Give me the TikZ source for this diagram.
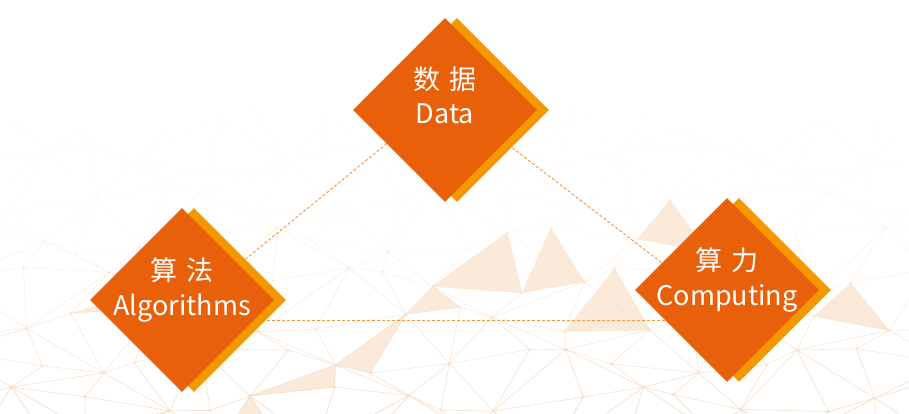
\documentclass[tikz,border=0pt]{standalone}
\usepackage{fontspec}
\usepackage{tikz}
\usetikzlibrary{shapes.geometric,backgrounds}
\newfontfamily\cjk{Noto Sans CJK SC}
\definecolor{red1}{RGB}{232,97,10}
\definecolor{orange1}{RGB}{243,152,0}
\definecolor{mesh1}{RGB}{246,214,188}
\definecolor{mesh2}{RGB}{249,218,192}
\definecolor{dash1}{RGB}{240,150,60}

\begin{document}
\begin{tikzpicture}[x=1pt,y=-1pt,
  box/.style={diamond,aspect=1,fill=red1,minimum width=184pt,minimum height=184pt,inner sep=0pt},
  boxshade/.style={box,fill=orange1},
  zh/.style={text=white,font=\cjk\fontsize{27}{30}\selectfont,anchor=base,inner sep=0pt},
  en/.style={zh},
  link/.style={dash1,line width=0.9pt,dash pattern=on 3pt off 2pt},
  meshline/.style={mesh1,line width=0.7pt},
  meshfill/.style={fill=mesh2}]
\useasboundingbox (0,0) rectangle (909,414);

\node[boxshade] (data-s) at (457,110) {};
\node[box] (data) at (445,110) {};
\node[boxshade] (algo-s) at (194,300) {};
\node[box] (algo) at (182,300) {};
\node[boxshade] (comp-s) at (739,290) {};
\node[box] (comp) at (727,290) {};

\node[zh] (data-zh) at ([yshift=20pt]data.center) {数\hspace{0.3em}据};
\node[en] (data-en) at ([yshift=-14pt]data.center) {Data};
\node[zh] (algo-zh) at ([yshift=20pt]algo.center) {算\hspace{0.3em}法};
\node[en] (algo-en) at ([yshift=-15pt]algo.center) {Algorithms};
\node[zh] (comp-zh) at ([yshift=20pt]comp.center) {算\hspace{0.3em}力};
\node[en] (comp-en) at ([yshift=-15pt]comp.center) {Computing};

\begin{scope}[on background layer]
% mesh in the back
\foreach \i in {0,...,16}
\foreach \j in {0,...,8}
{
  \coordinate (p-\i-\j) at ({-30+60*\i+20*sin(97*\i+151*\j)},{440-40*\j+13*cos(71*\i+113*\j)});
}
\foreach \i/\j in {7/3,8/4,9/4,6/2,11/5,5/1,14/3,2/3,10/3,4/0}
{
  \pgfmathtruncatemacro{\ii}{\i+1}
  \pgfmathtruncatemacro{\jj}{\j+1}
  \fill[meshfill,opacity=0.6] (p-\i-\j) -- (p-\ii-\j) -- (p-\ii-\jj) -- cycle;
}
\foreach \i in {0,...,15}
\foreach \j in {0,...,7}
{
  \pgfmathtruncatemacro{\ii}{\i+1}
  \pgfmathtruncatemacro{\jj}{\j+1}
  \pgfmathtruncatemacro{\odd}{mod(\i+\j,2)}
  \pgfmathsetmacro{\op}{max(0.85-0.14*\j,0.06)}
  \draw[meshline,opacity=\op] (p-\i-\j) -- (p-\ii-\j) (p-\i-\j) -- (p-\i-\jj);
  \ifnum\odd=0
    \draw[meshline,opacity=\op] (p-\i-\j) -- (p-\ii-\jj);
  \else
    \draw[meshline,opacity=\op] (p-\ii-\j) -- (p-\i-\jj);
  \fi
  \fill[mesh1,opacity=\op] (p-\i-\j) circle (1.5pt);
}

\draw[link] ([yshift=14pt]data.center) -- ([yshift=-11pt]algo.center);
\draw[link] ([yshift=14pt]data.center) -- ([yshift=-23pt]comp.center);
\draw[link] ([yshift=-20pt]algo.center) -- ([yshift=-30pt]comp.center);
\end{scope}
\end{tikzpicture}
\end{document}
